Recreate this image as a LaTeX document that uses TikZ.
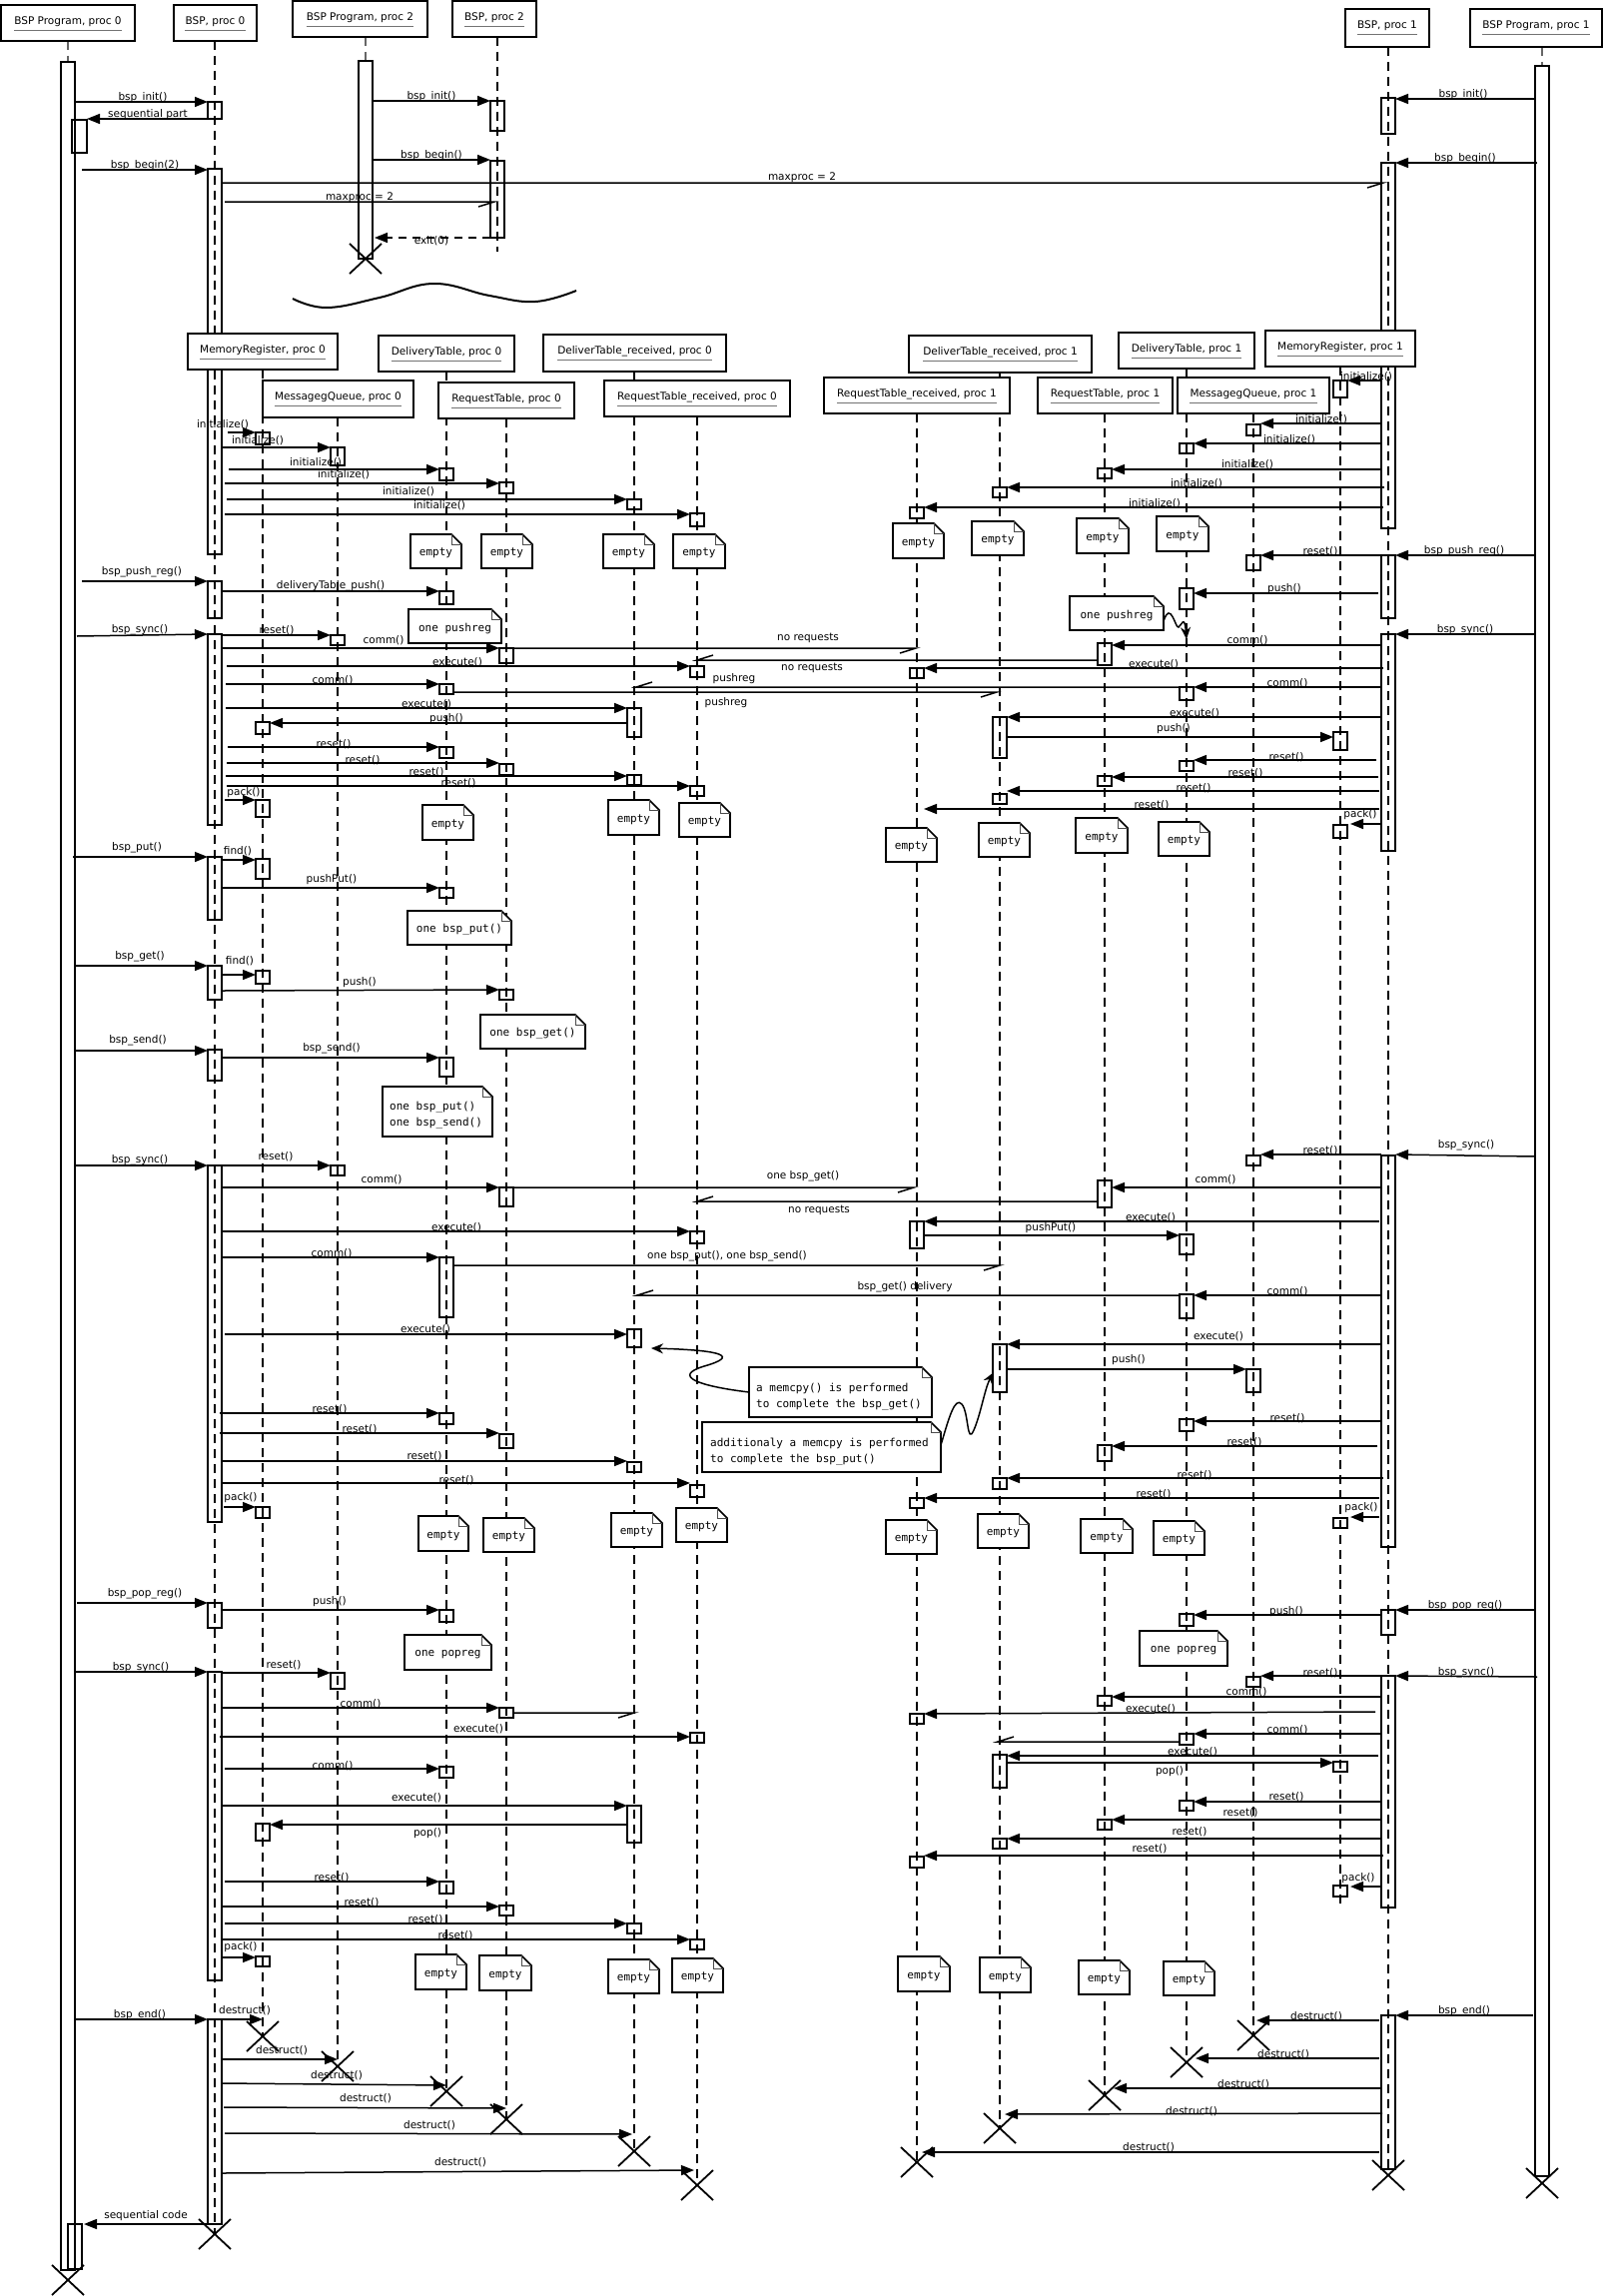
\documentclass[tikz,border=0pt]{standalone}
\usepackage{fontspec}
\setsansfont{DejaVu Sans}
\setmonofont{DejaVu Sans Mono}
\usetikzlibrary{arrows.meta}
\newcommand\labfont{\sffamily\fontsize{10.5}{12}\selectfont}
\newcommand\notefont{\ttfamily\fontsize{11}{16}\selectfont}
\tikzset{
  call/.style={line width=1.5pt,-{Triangle[length=13pt,width=10pt]}},
  ret/.style={line width=1.5pt,dashed,dash pattern=on 8pt off 6pt,-{Triangle[length=13pt,width=10pt]}},
  plainmsg/.style={line width=1.5pt,line join=miter},
  bar/.style={line width=1.5pt},
  life/.style={line width=1.1pt,dash pattern=on 9pt off 6pt},
  lab/.style={font=\labfont,inner sep=0pt},
  hbox/.style={line width=2pt,fill=white},
  uline/.style={line width=1.3pt,draw=black!55},
  notes/.style={line width=1.6pt,fill=white},
  fold/.style={line width=1pt,draw=black!70},
  ntext/.style={font=\notefont,inner sep=0pt},
  xm/.style={line width=1.8pt},
  wig/.style={line width=1.5pt,-{Stealth[length=12pt,width=10pt]}}
}
\newcommand\Msg[6]{\draw[call] (#1,#3) -- (#2,#3); \node[lab] at (#4,#5) {#6};}
\newcommand\MsgS[7]{\draw[call] (#1,#2) -- (#3,#4); \node[lab] at (#5,#6) {#7};}
\newcommand\HalfR[3]{\draw[plainmsg] (#1,#3) -- (#2,#3) -- ++(-16,5);}
\newcommand\HalfL[3]{\draw[plainmsg] (#1,#3) -- (#2,#3) -- ++(16,-5);}
\newcommand\Lab[3]{\node[lab] at (#1,#2) {#3};}
\newcommand\Act[3]{\draw[bar] ({#1-7},#2) rectangle ({#1+7},#3);}
\newcommand\Kill[2]{\draw[xm] ({#1-16},{#2-15}) -- ({#1+16},{#2+15}) ({#1-16},{#2+15}) -- ({#1+16},{#2-15});}
\newcommand\NoteShape[4]{\filldraw[notes] (#1,#2) -- ({#3-10},#2) -- (#3,{#2+10}) -- (#3,#4) -- (#1,#4) -- cycle;
  \draw[fold] ({#3-10},#2) -- ({#3-10},{#2+10}) -- (#3,{#2+10});}
\newcommand\Note[5]{\NoteShape{#1}{#2}{#3}{#4}\node[ntext] at ({(#1+#3)/2},{(#2+#4)/2+2}) {#5};}
\newcommand\Empty[4]{\Note{#1}{#2}{#3}{#4}{empty}}
\newcommand\Hdr[6]{\filldraw[hbox] (#2,#3) rectangle (#4,#5);
  \node[lab] (#1) at ({(#2+#4)/2},{#3+17}) {#6};
  \draw[uline] ([yshift=-3pt]#1.south west) -- ([yshift=-3pt]#1.south east);}
\begin{document}
\begin{tikzpicture}[x=1pt,y=-1pt]
\fill[white] (0,0) rectangle (1606,2299);
\useasboundingbox (0,0) rectangle (1606,2299);

% ---------------- lifelines ----------------
\draw[life,black!60] (68,41) -- (68,62);
\draw[life] (215,41) -- (215,2237);
\draw[life,black!60] (366,37) -- (366,61);
\draw[life] (498,37) -- (498,252);
\draw[life] (1390,47) -- (1390,2178);
\draw[life,black!60] (1544,47) -- (1544,66);
\draw[life] (263,370) -- (263,2039);
\draw[life] (338,418) -- (338,2069);
\draw[life] (447,372) -- (447,2094);
\draw[life] (507,419) -- (507,2122);
\draw[life] (635,372) -- (635,2154);
\draw[life] (698,417) -- (698,2188);
\draw[life] (918,414) -- (918,2165);
\draw[life] (1001,373) -- (1001,2131);
\draw[life] (1106,414) -- (1106,2098);
\draw[life] (1188,369) -- (1188,2065);
\draw[life] (1255,414) -- (1255,2038);
\draw[life] (1342,367) -- (1342,1910);

% ---------------- big activation bars ----------------
\draw[bar] (61,62) rectangle (75,2273);
\draw[bar] (72,120) rectangle (87,153);
\draw[bar] (68,2227) rectangle (82,2272);
\Act{215}{102}{119} \Act{215}{169}{555} \Act{215}{582}{619} \Act{215}{635}{826}
\Act{215}{858}{921} \Act{215}{967}{1001} \Act{215}{1051}{1082} \Act{215}{1167}{1524}
\Act{215}{1605}{1630} \Act{215}{1674}{1983} \Act{215}{2022}{2227}
\Act{366}{61}{259}
\Act{498}{101}{131} \Act{498}{161}{238}
\Act{1390}{98}{134} \Act{1390}{163}{529} \Act{1390}{556}{619} \Act{1390}{635}{852}
\Act{1390}{1157}{1549} \Act{1390}{1612}{1637} \Act{1390}{1678}{1910} \Act{1390}{2018}{2172}
\Act{1544}{66}{2179}

% ---------------- start ----------------
\Msg{75}{208}{102}{143}{98}{bsp\_init()}
\Msg{208}{87}{119}{148}{115}{sequential part}
\Msg{82}{208}{170}{145}{166}{bsp\_begin(2)}
\Msg{373}{491}{101}{432}{97}{bsp\_init()}
\Msg{373}{491}{160}{432}{156}{bsp\_begin()}
\HalfR{225}{495}{202} \Lab{360}{198}{maxproc = 2}
\draw[ret] (491,238) -- (375,238); \Lab{432}{241}{exit(0)}
\HalfR{222}{1385}{183} \Lab{803}{178}{maxproc = 2}
\Msg{1537}{1397}{99}{1465}{95}{bsp\_init()}
\Msg{1539}{1397}{163}{1467}{159}{bsp\_begin()}
\Kill{366}{259}
\draw[line width=2pt] plot[smooth,tension=0.7] coordinates {(293,299) (327,308) (380,298) (434,284) (490,296) (536,302) (577,291)};

% ---------------- initialize, proc 0 ----------------
\Msg{228}{256}{433}{223}{425}{initialize()} \Act{263}{433}{445}
\Msg{222}{331}{448}{258}{441}{initialize()} \Act{338}{448}{466}
\Msg{229}{440}{470}{316}{463}{initialize()} \Act{447}{469}{481}
\Msg{225}{500}{484}{344}{475}{initialize()} \Act{507}{483}{494}
\Msg{227}{628}{500}{409}{492}{initialize()} \Act{635}{500}{510}
\Msg{225}{691}{515}{440}{506}{initialize()} \Act{698}{514}{527}
% ---------------- initialize, proc 1 ----------------
\Msg{1383}{1349}{381}{1368}{377}{initialize()} \Act{1342}{381}{398}
\Msg{1383}{1262}{424}{1323}{420}{initialize()} \Act{1255}{425}{436}
\Msg{1383}{1195}{444}{1291}{440}{initialize()} \Act{1188}{444}{454}
\Msg{1383}{1113}{470}{1249}{465}{initialize()} \Act{1106}{469}{479}
\Msg{1386}{1008}{488}{1198}{484}{initialize()} \Act{1001}{488}{498}
\Msg{1385}{925}{508}{1156}{504}{initialize()} \Act{918}{508}{519}

% ---------------- push_reg ----------------
\Msg{82}{208}{582}{142}{573}{bsp\_push\_reg()}
\Msg{222}{440}{592}{331}{587}{deliveryTable\_push()} \Act{447}{592}{605}
\Msg{1537}{1397}{556}{1466}{552}{bsp\_push\_reg()}
\Msg{1383}{1262}{556}{1322}{552}{reset()} \Act{1255}{556}{571}
\Msg{1380}{1195}{594}{1286}{590}{push()} \Act{1188}{589}{610}

% ---------------- first sync, proc 0 ----------------
\MsgS{77}{637}{208}{635}{140}{631}{bsp\_sync()}
\Msg{222}{331}{636}{277}{631}{reset()} \Act{338}{636}{646}
\Msg{222}{500}{649}{384}{641}{comm()} \Act{507}{649}{664}
\HalfR{514}{917}{649} \Lab{809}{639}{no requests}
\HalfL{1099}{698}{661} \Lab{813}{669}{no requests}
\Msg{227}{691}{667}{458}{663}{execute()} \Act{698}{667}{678}
\Msg{226}{440}{685}{333}{681}{comm()} \Act{447}{685}{695}
\HalfR{454}{998}{693} \Lab{727}{704}{pushreg}
\HalfL{1181}{637}{688} \Lab{735}{680}{pushreg}
\Msg{226}{628}{709}{427}{705}{execute()} \Act{635}{709}{738}
\Msg{628}{270}{724}{447}{720}{push()} \Act{263}{723}{735}
\Msg{228}{440}{748}{334}{745}{reset()} \Act{447}{748}{759}
\Msg{227}{500}{764}{363}{761}{reset()} \Act{507}{765}{776}
\Msg{226}{628}{777}{427}{773}{reset()} \Act{635}{776}{786}
\Msg{227}{691}{787}{459}{784}{reset()} \Act{698}{787}{797}
\Msg{225}{256}{801}{244}{794}{pack()} \Act{263}{801}{818}
% ---------------- first sync, proc 1 ----------------
\Msg{1537}{1397}{635}{1467}{631}{bsp\_sync()}
\Msg{1383}{1113}{646}{1249}{641}{comm()} \Act{1106}{644}{666}
\Msg{1385}{925}{669}{1155}{665}{execute()} \Act{918}{669}{679}
\Msg{1383}{1195}{688}{1289}{684}{comm()} \Act{1188}{688}{701}
\Msg{1383}{1008}{718}{1196}{714}{execute()} \Act{1001}{718}{759}
\Msg{1008}{1335}{738}{1175}{730}{push()} \Act{1342}{733}{751}
\Msg{1378}{1195}{761}{1288}{758}{reset()} \Act{1188}{762}{772}
\Msg{1380}{1113}{778}{1247}{774}{reset()} \Act{1106}{777}{787}
\Msg{1381}{1008}{792}{1195}{789}{reset()} \Act{1001}{795}{805}
\Msg{1381}{925}{810}{1153}{806}{reset()}
\Msg{1383}{1352}{825}{1362}{816}{pack()} \Act{1342}{826}{839}

% ---------------- put / get / send ----------------
\Msg{73}{208}{858}{137}{849}{bsp\_put()}
\Msg{223}{256}{861}{238}{852}{find()} \Act{263}{860}{880}
\Msg{222}{440}{889}{332}{881}{pushPut()} \Act{447}{889}{899}
\Msg{75}{208}{967}{140}{958}{bsp\_get()}
\Msg{223}{256}{976}{240}{962}{find()} \Act{263}{972}{985}
\MsgS{222}{992}{500}{991}{360}{984}{push()} \Act{507}{991}{1001}
\Msg{75}{208}{1052}{138}{1042}{bsp\_send()}
\Msg{222}{440}{1059}{332}{1050}{bsp\_send()} \Act{447}{1059}{1078}

% ---------------- second sync, proc 0 ----------------
\Msg{75}{208}{1167}{140}{1162}{bsp\_sync()}
\Msg{222}{331}{1167}{276}{1158}{reset()} \Act{338}{1167}{1177}
\Msg{222}{500}{1189}{382}{1181}{comm()} \Act{507}{1189}{1208}
\HalfR{514}{915}{1189} \Lab{804}{1178}{one bsp\_get()}
\HalfL{1099}{698}{1203} \Lab{820}{1212}{no requests}
\Msg{222}{691}{1233}{457}{1229}{execute()} \Act{698}{1233}{1245}
\Msg{222}{440}{1259}{332}{1255}{comm()} \Act{447}{1259}{1319}
\HalfR{454}{1001}{1267} \Lab{728}{1258}{one bsp\_put(), one bsp\_send()}
\HalfL{1181}{638}{1297} \Lab{906}{1289}{bsp\_get() delivery}
\Msg{225}{628}{1336}{426}{1331}{execute()} \Act{635}{1331}{1349}
\Msg{220}{440}{1415}{330}{1411}{reset()} \Act{447}{1415}{1426}
\Msg{220}{500}{1435}{360}{1431}{reset()} \Act{507}{1436}{1450}
\Msg{222}{628}{1463}{425}{1458}{reset()} \Act{635}{1464}{1474}
\Msg{222}{691}{1485}{457}{1482}{reset()} \Act{698}{1487}{1499}
\Msg{224}{256}{1509}{241}{1500}{pack()} \Act{263}{1509}{1520}
% ---------------- second sync, proc 1 ----------------
\MsgS{1537}{1158}{1397}{1156}{1468}{1147}{bsp\_sync()}
\Msg{1383}{1262}{1156}{1322}{1152}{reset()} \Act{1255}{1157}{1167}
\Msg{1384}{1113}{1189}{1217}{1181}{comm()} \Act{1106}{1182}{1209}
\Msg{1381}{925}{1223}{1152}{1219}{execute()} \Act{918}{1223}{1250}
\Msg{925}{1181}{1237}{1052}{1230}{pushPut()} \Act{1188}{1236}{1256}
\Msg{1383}{1195}{1297}{1289}{1293}{comm()} \Act{1188}{1296}{1320}
\Msg{1383}{1008}{1346}{1220}{1338}{execute()} \Act{1001}{1346}{1394}
\Msg{1008}{1248}{1371}{1130}{1362}{push()} \Act{1255}{1371}{1394}
\Msg{1383}{1195}{1423}{1289}{1420}{reset()} \Act{1188}{1421}{1433}
\Msg{1379}{1113}{1448}{1246}{1444}{reset()} \Act{1106}{1447}{1463}
\Msg{1385}{1008}{1480}{1196}{1477}{reset()} \Act{1001}{1480}{1491}
\Msg{1381}{925}{1500}{1155}{1496}{reset()} \Act{918}{1500}{1510}
\Msg{1381}{1352}{1519}{1363}{1510}{pack()} \Act{1342}{1520}{1530}

% ---------------- pop_reg ----------------
\Msg{77}{208}{1605}{145}{1596}{bsp\_pop\_reg()}
\Msg{222}{440}{1612}{330}{1604}{push()} \Act{447}{1612}{1624}
\Msg{1537}{1397}{1612}{1467}{1608}{bsp\_pop\_reg()}
\Msg{1383}{1195}{1617}{1288}{1614}{push()} \Act{1188}{1616}{1628}

% ---------------- third sync, proc 0 ----------------
\Msg{75}{208}{1674}{141}{1670}{bsp\_sync()}
\Msg{222}{331}{1675}{284}{1667}{reset()} \Act{338}{1675}{1691}
\Msg{223}{500}{1710}{361}{1706}{comm()} \Act{507}{1710}{1720}
\HalfR{514}{635}{1715}
\Msg{220}{691}{1739}{479}{1731}{execute()} \Act{698}{1735}{1745}
\Msg{225}{440}{1771}{333}{1768}{comm()} \Act{447}{1769}{1780}
\Msg{222}{628}{1808}{417}{1800}{execute()} \Act{635}{1808}{1845}
\Msg{628}{270}{1827}{428}{1836}{pop()} \Act{263}{1826}{1843}
\Msg{225}{440}{1884}{332}{1880}{reset()} \Act{447}{1884}{1896}
\Msg{223}{500}{1909}{362}{1905}{reset()} \Act{507}{1908}{1918}
\Msg{225}{628}{1926}{426}{1922}{reset()} \Act{635}{1926}{1936}
\Msg{222}{691}{1942}{456}{1938}{reset()} \Act{698}{1942}{1952}
\Msg{222}{256}{1960}{241}{1950}{pack()} \Act{263}{1959}{1969}
% ---------------- third sync, proc 1 ----------------
\MsgS{1539}{1679}{1397}{1678}{1468}{1675}{bsp\_sync()}
\Msg{1383}{1262}{1678}{1322}{1675}{reset()} \Act{1255}{1679}{1689}
\Msg{1383}{1113}{1699}{1248}{1694}{comm()} \Act{1106}{1698}{1708}
\MsgS{1377}{1714}{925}{1716}{1152}{1711}{execute()} \Act{918}{1716}{1726}
\Msg{1383}{1195}{1736}{1289}{1732}{comm()} \Act{1188}{1736}{1747}
\HalfL{1181}{999}{1744}
\Msg{1380}{1008}{1758}{1194}{1754}{execute()} \Act{1001}{1757}{1790}
\Msg{1008}{1335}{1765}{1171}{1774}{pop()} \Act{1342}{1764}{1774}
\Msg{1383}{1195}{1804}{1288}{1799}{reset()} \Act{1188}{1803}{1813}
\Msg{1383}{1113}{1822}{1242}{1815}{reset()} \Act{1106}{1822}{1832}
\Msg{1383}{1008}{1841}{1191}{1834}{reset()} \Act{1001}{1841}{1851}
\Msg{1385}{925}{1858}{1151}{1851}{reset()} \Act{918}{1859}{1870}
\Msg{1383}{1352}{1889}{1360}{1881}{pack()} \Act{1342}{1888}{1899}

% ---------------- end ----------------
\Msg{75}{208}{2022}{140}{2018}{bsp\_end()}
\Msg{222}{263}{2022}{245}{2013}{destruct()} \Kill{263}{2039}
\Msg{221}{338}{2062}{282}{2053}{destruct()} \Kill{338}{2069}
\MsgS{222}{2086}{447}{2088}{337}{2078}{destruct()} \Kill{447}{2094}
\MsgS{224}{2110}{507}{2111}{366}{2101}{destruct()} \Kill{507}{2122}
\MsgS{225}{2136}{633}{2137}{430}{2128}{destruct()} \Kill{635}{2154}
\MsgS{222}{2176}{695}{2173}{461}{2165}{destruct()} \Kill{698}{2188}
\Msg{208}{84}{2227}{146}{2219}{sequential code}
\Kill{215}{2237} \Kill{68}{2283}
\Msg{1535}{1397}{2018}{1466}{2014}{bsp\_end()}
\Msg{1381}{1258}{2023}{1318}{2019}{destruct()} \Kill{1255}{2038}
\Msg{1381}{1197}{2061}{1285}{2057}{destruct()} \Kill{1188}{2065}
\Msg{1383}{1115}{2091}{1245}{2087}{destruct()} \Kill{1106}{2098}
\MsgS{1384}{2116}{1006}{2117}{1193}{2114}{destruct()} \Kill{1001}{2131}
\Msg{1381}{923}{2155}{1150}{2150}{destruct()} \Kill{918}{2165}
\Kill{1390}{2178} \Kill{1544}{2186}

% ---------------- notes ----------------
\Empty{411}{535}{462}{569} \Empty{482}{535}{533}{569} \Empty{604}{535}{655}{569} \Empty{674}{535}{726}{569}
\Empty{894}{524}{945}{559} \Empty{973}{522}{1025}{556} \Empty{1078}{519}{1130}{554} \Empty{1158}{517}{1210}{552}
\Note{409}{610}{502}{644}{one pushreg}
\Note{1071}{597}{1165}{631}{one pushreg}
\draw[wig] (1165,622) .. controls (1172,600) and (1177,630) .. (1180,628) .. controls (1183,626) and (1186,615) .. (1188,640);
\Empty{423}{806}{474}{841} \Empty{609}{801}{660}{836} \Empty{680}{804}{731}{838}
\Empty{887}{829}{938}{863} \Empty{980}{824}{1031}{858} \Empty{1077}{819}{1129}{854} \Empty{1160}{823}{1211}{857}
\Note{408}{912}{512}{946}{one bsp\_put()}
\Note{481}{1016}{586}{1050}{one bsp\_get()}
\NoteShape{383}{1088}{493}{1138}\node[ntext,anchor=west,align=left] at (390,1117) {one bsp\_put()\\one bsp\_send()};
\NoteShape{750}{1369}{933}{1419}\node[ntext,anchor=west,align=left] at (757,1399) {a memcpy() is performed\\to complete the bsp\_get()};
\NoteShape{703}{1424}{942}{1474}\node[ntext,anchor=west,align=left] at (711,1454) {additionaly a memcpy is performed\\to complete the bsp\_put()};
\draw[wig] (750,1394) .. controls (700,1388) and (672,1378) .. (705,1368) .. controls (740,1358) and (725,1352) .. (652,1350);
\draw[wig] (942,1447) .. controls (950,1420) and (956,1398) .. (963,1406) .. controls (970,1414) and (968,1448) .. (975,1432) .. controls (982,1416) and (986,1390) .. (995,1374);
\Empty{419}{1518}{469}{1553} \Empty{484}{1520}{535}{1554} \Empty{612}{1515}{663}{1549} \Empty{677}{1510}{728}{1544}
\Empty{887}{1522}{938}{1556} \Empty{979}{1516}{1030}{1550} \Empty{1082}{1521}{1134}{1555} \Empty{1155}{1523}{1206}{1557}
\Note{405}{1637}{492}{1672}{one popreg}
\Note{1141}{1633}{1229}{1668}{one popreg}
\Empty{416}{1957}{467}{1992} \Empty{480}{1958}{532}{1993} \Empty{609}{1962}{660}{1996} \Empty{673}{1961}{724}{1995}
\Empty{899}{1959}{951}{1994} \Empty{981}{1960}{1032}{1995} \Empty{1080}{1963}{1131}{1997} \Empty{1165}{1964}{1216}{1998}

% ---------------- headers ----------------
\Hdr{hP0}{1}{5}{135}{41}{BSP Program, proc 0}
\Hdr{hB0}{174}{5}{257}{41}{BSP, proc 0}
\Hdr{hP2}{293}{1}{428}{37}{BSP Program, proc 2}
\Hdr{hB2}{453}{1}{537}{37}{BSP, proc 2}
\Hdr{hB1}{1347}{9}{1431}{47}{BSP, proc 1}
\Hdr{hP1}{1472}{9}{1604}{47}{BSP Program, proc 1}
\Hdr{hMR0}{188}{334}{338}{370}{MemoryRegister, proc 0}
\Hdr{hDT0}{379}{336}{515}{372}{DeliveryTable, proc 0}
\Hdr{hDR0}{544}{335}{727}{372}{DeliverTable\_received, proc 0}
\Hdr{hMQ0}{263}{381}{414}{418}{MessagegQueue, proc 0}
\Hdr{hRT0}{439}{383}{575}{419}{RequestTable, proc 0}
\Hdr{hRR0}{605}{381}{791}{417}{RequestTable\_received, proc 0}
\Hdr{hDR1}{910}{336}{1093}{373}{DeliverTable\_received, proc 1}
\Hdr{hRR1}{825}{378}{1011}{414}{RequestTable\_received, proc 1}
\Hdr{hRT1}{1039}{378}{1174}{414}{RequestTable, proc 1}
\Hdr{hDT1}{1120}{333}{1256}{369}{DeliveryTable, proc 1}
\Hdr{hMQ1}{1179}{378}{1331}{414}{MessagegQueue, proc 1}
\Hdr{hMR1}{1267}{331}{1417}{367}{MemoryRegister, proc 1}
\end{tikzpicture}
\end{document}
